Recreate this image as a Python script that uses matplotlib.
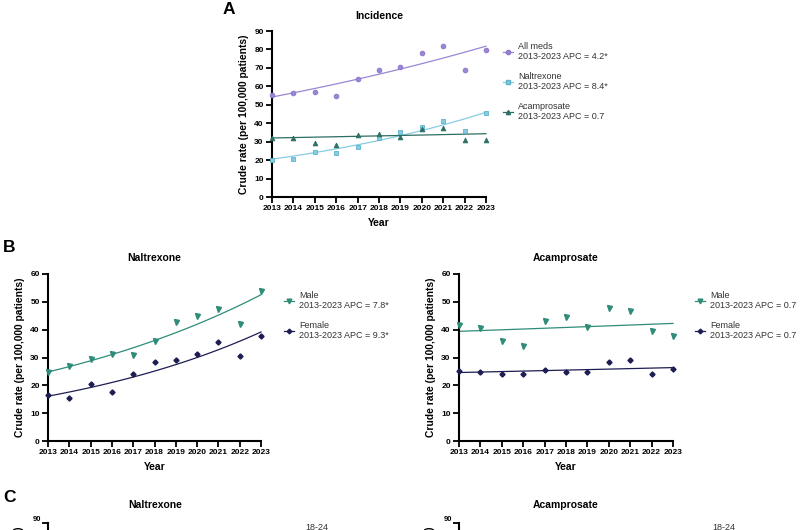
import numpy as np
import matplotlib
matplotlib.use("Agg")
import matplotlib.pyplot as plt
from matplotlib.lines import Line2D

plt.rcParams['font.family'] = ['Liberation Sans', 'DejaVu Sans']

years = [2013, 2014, 2015, 2016, 2017, 2018, 2019, 2020, 2021, 2022, 2023]

# Panel A: incidence
inc_all = [55.5, 56.4, 56.9, 54.9, 64.0, 68.7, 70.4, 78.2, 81.8, 69.1, 79.5]
inc_nal = [19.8, 20.8, 24.5, 23.9, 27.3, 31.8, 35.4, 37.7, 41.2, 35.8, 45.4]
inc_aca = [31.9, 32.1, 29.4, 28.3, 33.6, 34.0, 32.5, 37.0, 37.4, 30.9, 30.9]
inc_fit_start = [54.2, 20.5, 32.0]
inc_apc = [4.2, 8.4, 0.7]
inc_labels = ["All meds\n2013-2023 APC = 4.2*",
              "Naltrexone\n2013-2023 APC = 8.4*",
              "Acamprosate\n2013-2023 APC = 0.7"]

# Panel B: Naltrexone by sex
nal_male = [24.7, 27.1, 29.5, 31.3, 31.0, 35.8, 42.8, 45.0, 47.5, 41.9, 53.9]
nal_female = [16.6, 15.3, 20.6, 17.6, 24.2, 28.5, 29.2, 31.4, 35.4, 30.7, 37.6]
nal_fit_start = [24.8, 16.1]
nal_apc = [7.8, 9.3]
nal_labels = ["Male\n2013-2023 APC = 7.8*", "Female\n2013-2023 APC = 9.3*"]

# Panel B: Acamprosate by sex
aca_male = [41.8, 40.5, 36.0, 34.3, 43.0, 44.7, 41.1, 47.9, 46.6, 39.4, 37.8]
aca_female = [25.3, 24.9, 24.2, 24.1, 25.5, 24.9, 24.9, 28.3, 29.1, 24.1, 25.7]
aca_fit_start = [39.4, 24.6]
aca_apc = [0.7, 0.7]
aca_labels = ["Male\n2013-2023 APC = 0.7", "Female\n2013-2023 APC = 0.7"]

c_all, c_nal, c_aca = "#9a86d4", "#86cde2", "#2d6e62"
c_male, c_female = "#2f8c79", "#1d1d52"

W, H = 800, 530
fig = plt.figure(figsize=(8, 5.3), dpi=100)

TICK_FS = 6.0
LAB_FS = 7.4
LEG_FS = 6.5
TITLE_FS = 7.5
LETTER_FS = 12.5


def px_axes(x0, ytop, x1, ybot):
    return fig.add_axes([x0 / W, (H - ybot) / H, (x1 - x0) / W, (ybot - ytop) / H])


def style(ax, ymax, ystep):
    ax.set_xlim(2013, 2023)
    ax.set_ylim(0, ymax)
    ax.set_xticks(years)
    ax.set_yticks(np.arange(0, ymax + 1, ystep))
    for s in ["top", "right"]:
        ax.spines[s].set_visible(False)
    for s in ["left", "bottom"]:
        ax.spines[s].set_linewidth(1.5)
    ax.tick_params(width=1.3, length=4, direction="out", pad=2)
    for lab in ax.get_xticklabels() + ax.get_yticklabels():
        lab.set_fontweight('bold')
        lab.set_fontsize(TICK_FS)
    ax.set_xlabel("Year", fontsize=LAB_FS, fontweight="bold", labelpad=4)
    ax.set_ylabel("Crude rate (per 100,000 patients)", fontsize=LAB_FS,
                  fontweight="bold", labelpad=4)


def fitline(ax, start, apc, color):
    xx = np.linspace(2013, 2023, 60)
    ax.plot(xx, start * (1 + apc / 100.0) ** (xx - 2013), color=color, lw=0.9,
            clip_on=False, zorder=2)


def legend(ax, handles, labels, x, y):
    ax.legend(handles, labels, loc="upper left",
              bbox_to_anchor=(x / W, 1 - y / H), bbox_transform=fig.transFigure,
              frameon=False, fontsize=LEG_FS, handlelength=1.15, handletextpad=0.55,
              labelspacing=1.15, borderaxespad=0, borderpad=0, labelcolor="#333333")


# ---------- Panel A ----------
axA = px_axes(272, 31, 486, 197)
style(axA, 90, 10)
sets = [(inc_all, "o", c_all, "#8a74c8"), (inc_nal, "s", c_nal, "#5db2cc"),
        (inc_aca, "^", c_aca, c_aca)]
hA = []
for (vals, mk, col, ec), st, apc in zip(sets, inc_fit_start, inc_apc):
    fitline(axA, st, apc, col)
    axA.plot(years, vals, ls="none", marker=mk, ms=3.4, mfc=col, mec=ec, mew=0.6,
             clip_on=False, zorder=3)
    hA.append(Line2D([], [], color=col, lw=0.9, marker=mk, ms=3.0, mfc=col, mec=ec))
axA.set_title("Incidence", fontsize=TITLE_FS, fontweight="bold", pad=9)
legend(axA, hA, inc_labels, 503, 42)
fig.text(229 / W, 1 - 9 / H, "A", fontsize=LETTER_FS, fontweight="bold",
         va="center", ha="center")

# ---------- Panel B ----------
def panelB(x0, x1, male, female, starts, apcs, labels, title, legx):
    ax = px_axes(x0, 274, x1, 441)
    style(ax, 60, 10)
    hs = []
    for vals, mk, col, st, apc in zip([male, female], ["v", "D"], [c_male, c_female],
                                      starts, apcs):
        fitline(ax, st, apc, col)
        ax.plot(years, vals, ls="none", marker=mk, ms=3.6 if mk == "v" else 2.6,
                color=col, clip_on=False, zorder=3)
        hs.append(Line2D([], [], color=col, lw=0.9, marker=mk,
                         ms=3.4 if mk == "v" else 2.4))
    ax.set_title(title, fontsize=TITLE_FS, fontweight="bold", pad=9.5)
    legend(ax, hs, labels, legx, 291)
    return ax

panelB(48, 261, nal_male, nal_female, nal_fit_start, nal_apc, nal_labels,
       "Naltrexone", 284)
panelB(459, 673, aca_male, aca_female, aca_fit_start, aca_apc, aca_labels,
       "Acamprosate", 695)
fig.text(9 / W, 1 - 248 / H, "B", fontsize=LETTER_FS, fontweight="bold",
         va="center", ha="center")

# ---------- Panel C (cropped at the bottom edge) ----------
for x0, title, legx in [(48, "Naltrexone", 305), (459, "Acamprosate", 712)]:
    ax = px_axes(x0, 523, x0 + 213, 690)
    ax.set_xlim(2013, 2023)
    ax.set_ylim(0, 90)
    ax.set_yticks([90])
    ax.set_xticks([])
    for s in ["top", "right", "bottom"]:
        ax.spines[s].set_visible(False)
    ax.spines["left"].set_linewidth(1.5)
    ax.tick_params(width=1.3, length=4, pad=1)
    for lab in ax.get_yticklabels():
        lab.set_fontweight('bold')
        lab.set_fontsize(5.5)
        lab.set_va("bottom")
    ax.set_ylabel("Crude rate (per 100,000 patients)", fontsize=LAB_FS,
                  fontweight="bold", labelpad=6)
    fig.text((x0 + 107) / W, 1 - 505 / H, title, fontsize=TITLE_FS,
             fontweight="bold", ha="center", va="center")
    fig.text(legx / W, 1 - 527 / H, "18-24", fontsize=LEG_FS, color="#333333",
             ha="left", va="center")
fig.text(9 / W, 1 - 497 / H, "C", fontsize=LETTER_FS, fontweight="bold",
         va="center", ha="center")

fig.savefig("out.png", dpi=100, facecolor="white")
